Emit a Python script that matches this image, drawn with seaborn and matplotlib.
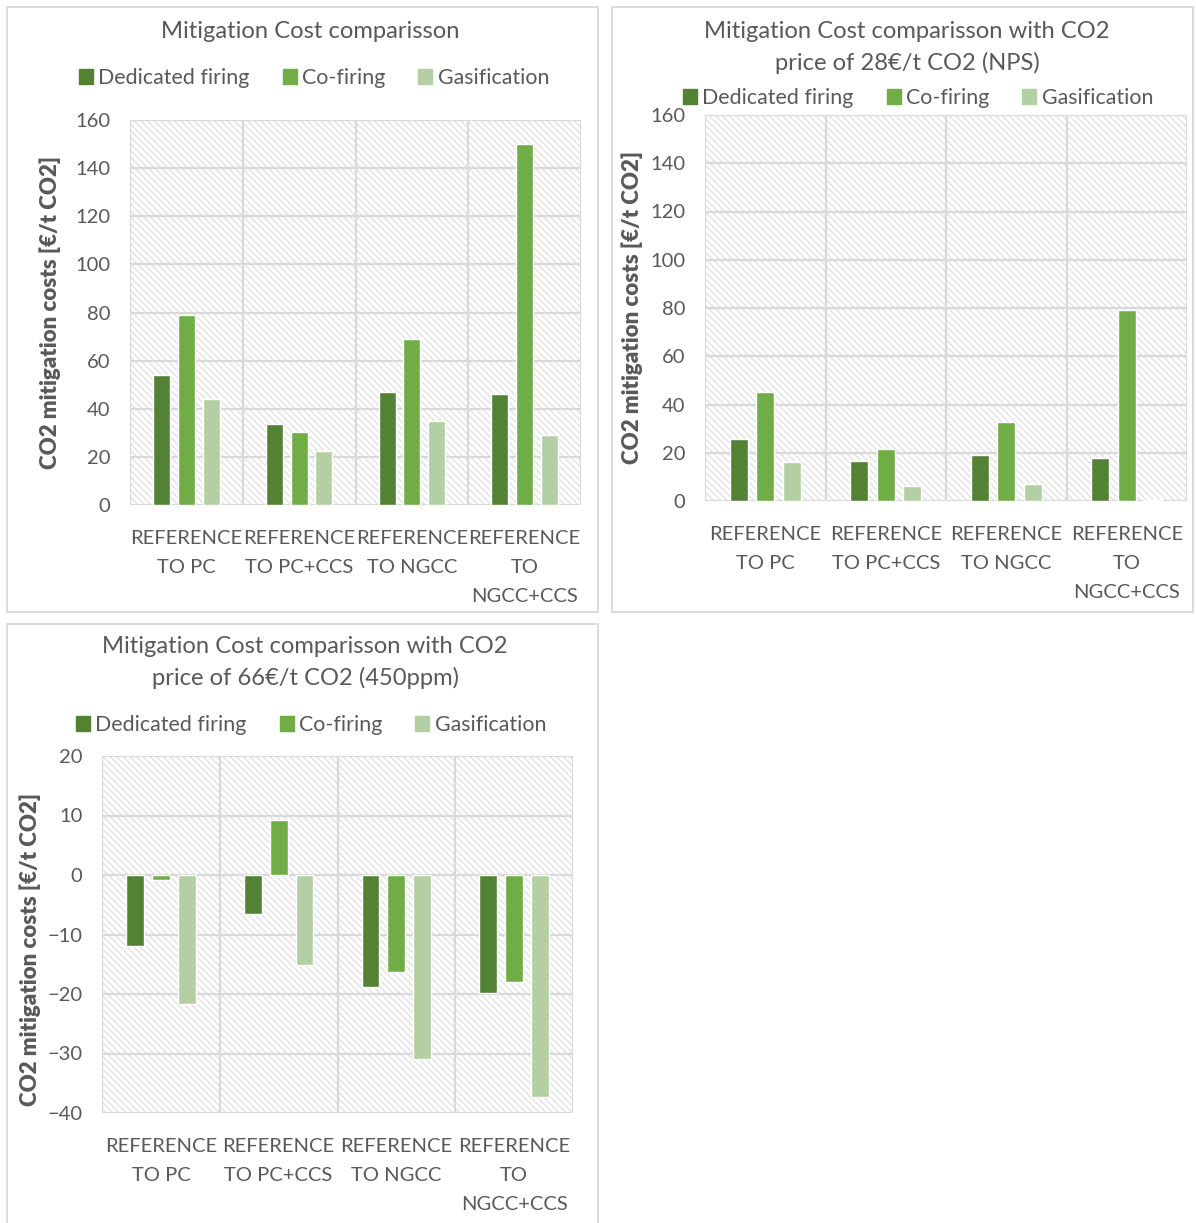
import numpy as np
import pandas as pd
import matplotlib
matplotlib.use("Agg")
import matplotlib.pyplot as plt
from matplotlib.patches import Rectangle
import seaborn as sns

# ---- data (CO2 mitigation costs, €/t CO2) ----
cases = ["REFERENCE\nTO PC", "REFERENCE\nTO PC+CCS", "REFERENCE\nTO NGCC", "REFERENCE\nTO\nNGCC+CCS"]
technologies = ["Dedicated firing", "Co-firing", "Gasification"]

base_dedicated = [54, 33.5, 47, 46]
base_cofiring = [79, 30.5, 69, 150]
base_gasification = [44, 22.5, 35, 29]

nps_dedicated = [25.7, 16.4, 18.9, 17.9]
nps_cofiring = [45.2, 21.4, 32.7, 79]
nps_gasification = [16.1, 6.2, 6.9, 0.4]

ppm450_dedicated = [-12.0, -6.6, -18.8, -19.8]
ppm450_cofiring = [-0.8, 9.3, -16.3, -17.9]
ppm450_gasification = [-21.7, -15.2, -30.9, -37.3]

colors = ["#548235", "#70ad47", "#b3cfa3"]
TEXT = "#595959"
GRID = "#d9d9d9"

sns.set_theme(style="white")
plt.rcParams["font.family"] = ["Lato", "DejaVu Sans"]
plt.rcParams["hatch.linewidth"] = 1.0

W, H = 1196, 1223
fig = plt.figure(figsize=(W / 100, H / 100), dpi=100)


def frac(x0, y0, x1, y1):
    return [x0 / W, 1 - y1 / H, (x1 - x0) / W, (y1 - y0) / H]


def long_table(ded, cof, gas):
    rows = []
    for tech, vals in zip(technologies, [ded, cof, gas]):
        for case, v in zip(cases, vals):
            rows.append({"Case": case, "Technology": tech, "Cost": v})
    return pd.DataFrame(rows)


def panel(border, plot, title, title_xy, legend_xy, ylabel_xy, df, ylim, yticks):
    # panel border
    bx0, by0, bx1, by1 = border
    fig.add_artist(Rectangle((bx0 / W, 1 - by1 / H), (bx1 - bx0) / W, (by1 - by0) / H,
                             transform=fig.transFigure, fill=False,
                             edgecolor=GRID, lw=1.3))
    ax = fig.add_axes(frac(*plot))
    # hatched plot-area background
    ax.add_patch(Rectangle((0, 0), 1, 1, transform=ax.transAxes, facecolor="white",
                           edgecolor="#e2e2e2", hatch="\\\\\\\\\\", lw=0, zorder=0.1))
    sns.barplot(data=df, x="Case", y="Cost", hue="Technology", order=cases,
                hue_order=technologies, palette=colors, saturation=1,
                width=0.66, gap=0.31, errorbar=None, legend=False, ax=ax)
    ax.set_xlim(-0.5, 3.5)
    ax.set_ylim(*ylim)
    ax.set_yticks(yticks)
    ax.set_xticks([-0.5, 0.5, 1.5, 2.5, 3.5], minor=True)
    ax.set_axisbelow(True)
    ax.grid(which="major", axis="y", color=GRID, lw=1.6)
    ax.grid(which="minor", axis="x", color=GRID, lw=1.6)
    ax.grid(which="major", axis="x", visible=False)
    for s in ax.spines.values():
        s.set_visible(False)
    ax.tick_params(axis="both", which="both", length=0, colors=TEXT, labelsize=14.5)
    ax.tick_params(axis="x", pad=18)
    ax.tick_params(axis="y", pad=14)
    ax.set_xlabel("")
    ax.set_ylabel("")
    for lab in ax.get_xticklabels():
        lab.set_linespacing(1.84)
    # title
    fig.text(title_xy[0] / W, 1 - title_xy[1] / H, title, ha="center", va="top",
             fontsize=17.1, color=TEXT, linespacing=1.55)
    # legend
    handles = [Rectangle((0, 0), 1, 1, color=c) for c in colors]
    fig.legend(handles, technologies, loc="center",
               bbox_to_anchor=(legend_xy[0] / W, 1 - legend_xy[1] / H), ncol=3,
               frameon=False, fontsize=15.4, labelcolor=TEXT, handlelength=0.65,
               handleheight=0.65, handletextpad=0.25, columnspacing=1.55)
    # y-axis label
    fig.text(ylabel_xy[0] / W, 1 - ylabel_xy[1] / H, "CO2 mitigation costs [€/t CO2]",
             rotation=90, ha="center", va="center", fontsize=16,
             fontweight="heavy", color=TEXT)
    return ax


panel((7, 7, 598, 612), (130, 120, 581, 505), "Mitigation Cost comparisson", (310, 21),
      (314, 78), (50, 312), long_table(base_dedicated, base_cofiring, base_gasification),
      (0, 160), range(0, 161, 20))

panel((612, 7, 1193, 612), (705, 115, 1187, 501),
      "Mitigation Cost comparisson with CO2\nprice of 28€/t CO2 (NPS)", (907, 21),
      (918, 98), (632, 308), long_table(nps_dedicated, nps_cofiring, nps_gasification),
      (0, 160), range(0, 161, 20))

panel((7, 624, 598, 1240), (102, 756, 573, 1113),
      "Mitigation Cost comparisson with CO2\nprice of 66€/t CO2 (450ppm)", (305, 636),
      (311, 725), (30, 949), long_table(ppm450_dedicated, ppm450_cofiring, ppm450_gasification),
      (-40, 20), range(-40, 21, 10))

fig.savefig("out.png", dpi=100, facecolor="white")
